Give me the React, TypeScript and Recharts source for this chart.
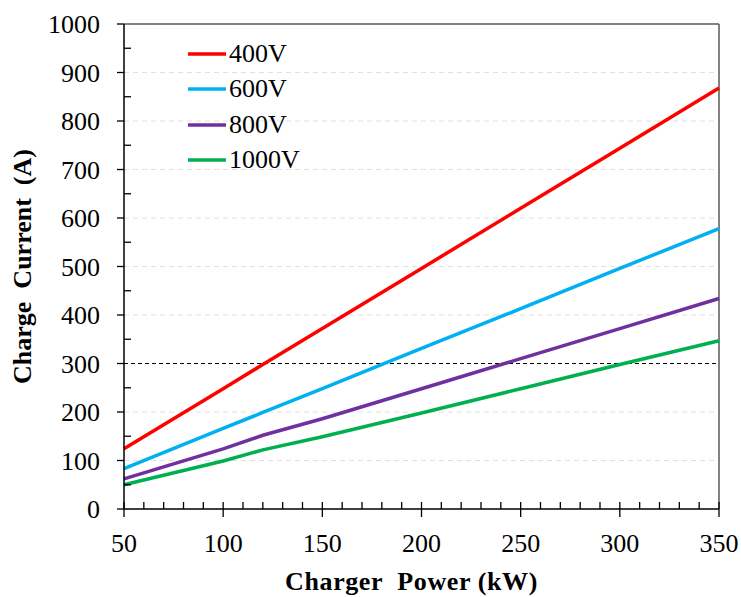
import React from 'react';
import { LineChart, Line, XAxis, YAxis, ReferenceLine } from 'recharts';

const power = [50, 100, 120, 150, 200, 250, 300, 350];
const v400 = [124, 248, 298, 372, 496, 620, 744, 868];
const v600 = [83, 166, 199, 248, 331, 413, 496, 578];
const v800 = [62, 124, 152, 186, 248, 310, 372, 434];
const v1000 = [50, 99, 122, 149, 198, 248, 298, 347];

const xTicks = [50, 60, 70, 80, 90, 100, 110, 120, 130, 140, 150, 160, 170, 180, 190, 200, 210, 220, 230, 240, 250, 260, 270, 280, 290, 300, 310, 320, 330, 340, 350];
const yTicks = [0, 50, 100, 150, 200, 250, 300, 350, 400, 450, 500, 550, 600, 650, 700, 750, 800, 850, 900, 950, 1000];
const gridValues = [100, 200, 400, 500, 600, 700, 800, 900];

const series = [
  { key: 'v400', name: '400V', color: '#ff0000' },
  { key: 'v600', name: '600V', color: '#00b0f0' },
  { key: 'v800', name: '800V', color: '#7030a0' },
  { key: 'v1000', name: '1000V', color: '#00b050' },
];

const data = power.map((p, i) => ({
  p,
  v400: v400[i],
  v600: v600[i],
  v800: v800[i],
  v1000: v1000[i],
}));

const FONT = '"Liberation Serif", "Times New Roman", serif';

const XTick = (props: any) => {
  const { x, y, payload } = props;
  const major = payload.value % 50 === 0;
  return (
    <g>
      <line x1={x} x2={x} y1={y - 7} y2={major ? y + 8 : y} stroke="#000" strokeWidth={1.3} />
      {major && (
        <text x={x} y={y + 43} textAnchor="middle" fontSize={26} fontFamily={FONT} fill="#000">
          {payload.value}
        </text>
      )}
    </g>
  );
};

const YTick = (props: any) => {
  const { x, y, payload } = props;
  const major = payload.value % 100 === 0;
  return (
    <g>
      <line x1={major ? x - 7 : x} x2={x + (major ? 0 : 7)} y1={y} y2={y} stroke="#000" strokeWidth={1.3} />
      {major && (
        <text x={x - 24} y={y + 9} textAnchor="end" fontSize={26} fontFamily={FONT} fill="#000">
          {payload.value}
        </text>
      )}
    </g>
  );
};

const LegendBox = () => (
  <div style={{ position: 'absolute', left: 188, top: 36, fontFamily: FONT, fontSize: 26 }}>
    {series.map(s => (
      <div key={s.key} style={{ display: 'flex', alignItems: 'center', height: 35.5 }}>
        <svg width={40} height={6} style={{ marginRight: 1 }}>
          <line x1={0} x2={38} y1={3} y2={3} stroke={s.color} strokeWidth={3.5} />
        </svg>
        <span style={{ lineHeight: '26px' }}>{s.name}</span>
      </div>
    ))}
  </div>
);

export default function App() {
  return (
    <div style={{ position: 'absolute', left: 0, top: 0, width: 741, height: 597, background: '#fff' }}>
      <LineChart width={741} height={597} data={data} margin={{ top: 24, right: 22, bottom: 0, left: 0 }}>
        {gridValues.map(v => (
          <ReferenceLine key={v} y={v} stroke="#e0e0e0" strokeDasharray="5 4" strokeWidth={1} />
        ))}
        <ReferenceLine y={300} stroke="#000" strokeDasharray="4 3" strokeWidth={1.2} />
        <ReferenceLine y={1000} stroke="#595959" strokeWidth={1.5} />
        <ReferenceLine x={350} stroke="#595959" strokeWidth={1.5} />
        <XAxis
          dataKey="p"
          type="number"
          domain={[50, 350]}
          ticks={xTicks}
          interval={0}
          height={88}
          tickSize={0}
          tickMargin={0}
          tickLine={false}
          axisLine={{ stroke: '#000', strokeWidth: 1.5 }}
          tick={<XTick />}
          label={{ value: 'Charger\u00a0\u00a0Power (kW)', position: 'insideBottom', offset: 7, dx: -10, style: { fontFamily: FONT, fontSize: 26, fontWeight: 'bold', fill: '#000', letterSpacing: 0.6 } }}
        />
        <YAxis
          type="number"
          domain={[0, 1000]}
          ticks={yTicks}
          interval={0}
          width={124}
          tickSize={0}
          tickMargin={0}
          tickLine={false}
          axisLine={{ stroke: '#000', strokeWidth: 1.5 }}
          tick={<YTick />}
          label={{ value: 'Charge\u00a0\u00a0Current\u00a0\u00a0(A)', angle: -90, position: 'insideLeft', offset: 22, style: { textAnchor: 'middle', fontFamily: FONT, fontSize: 26, fontWeight: 'bold', fill: '#000' } }}
        />
        {series.map(s => (
          <Line
            key={s.key}
            dataKey={s.key}
            name={s.name}
            stroke={s.color}
            strokeWidth={3.5}
            dot={false}
            type="linear"
            isAnimationActive={false}
          />
        ))}
      </LineChart>
      <LegendBox />
    </div>
  );
}
